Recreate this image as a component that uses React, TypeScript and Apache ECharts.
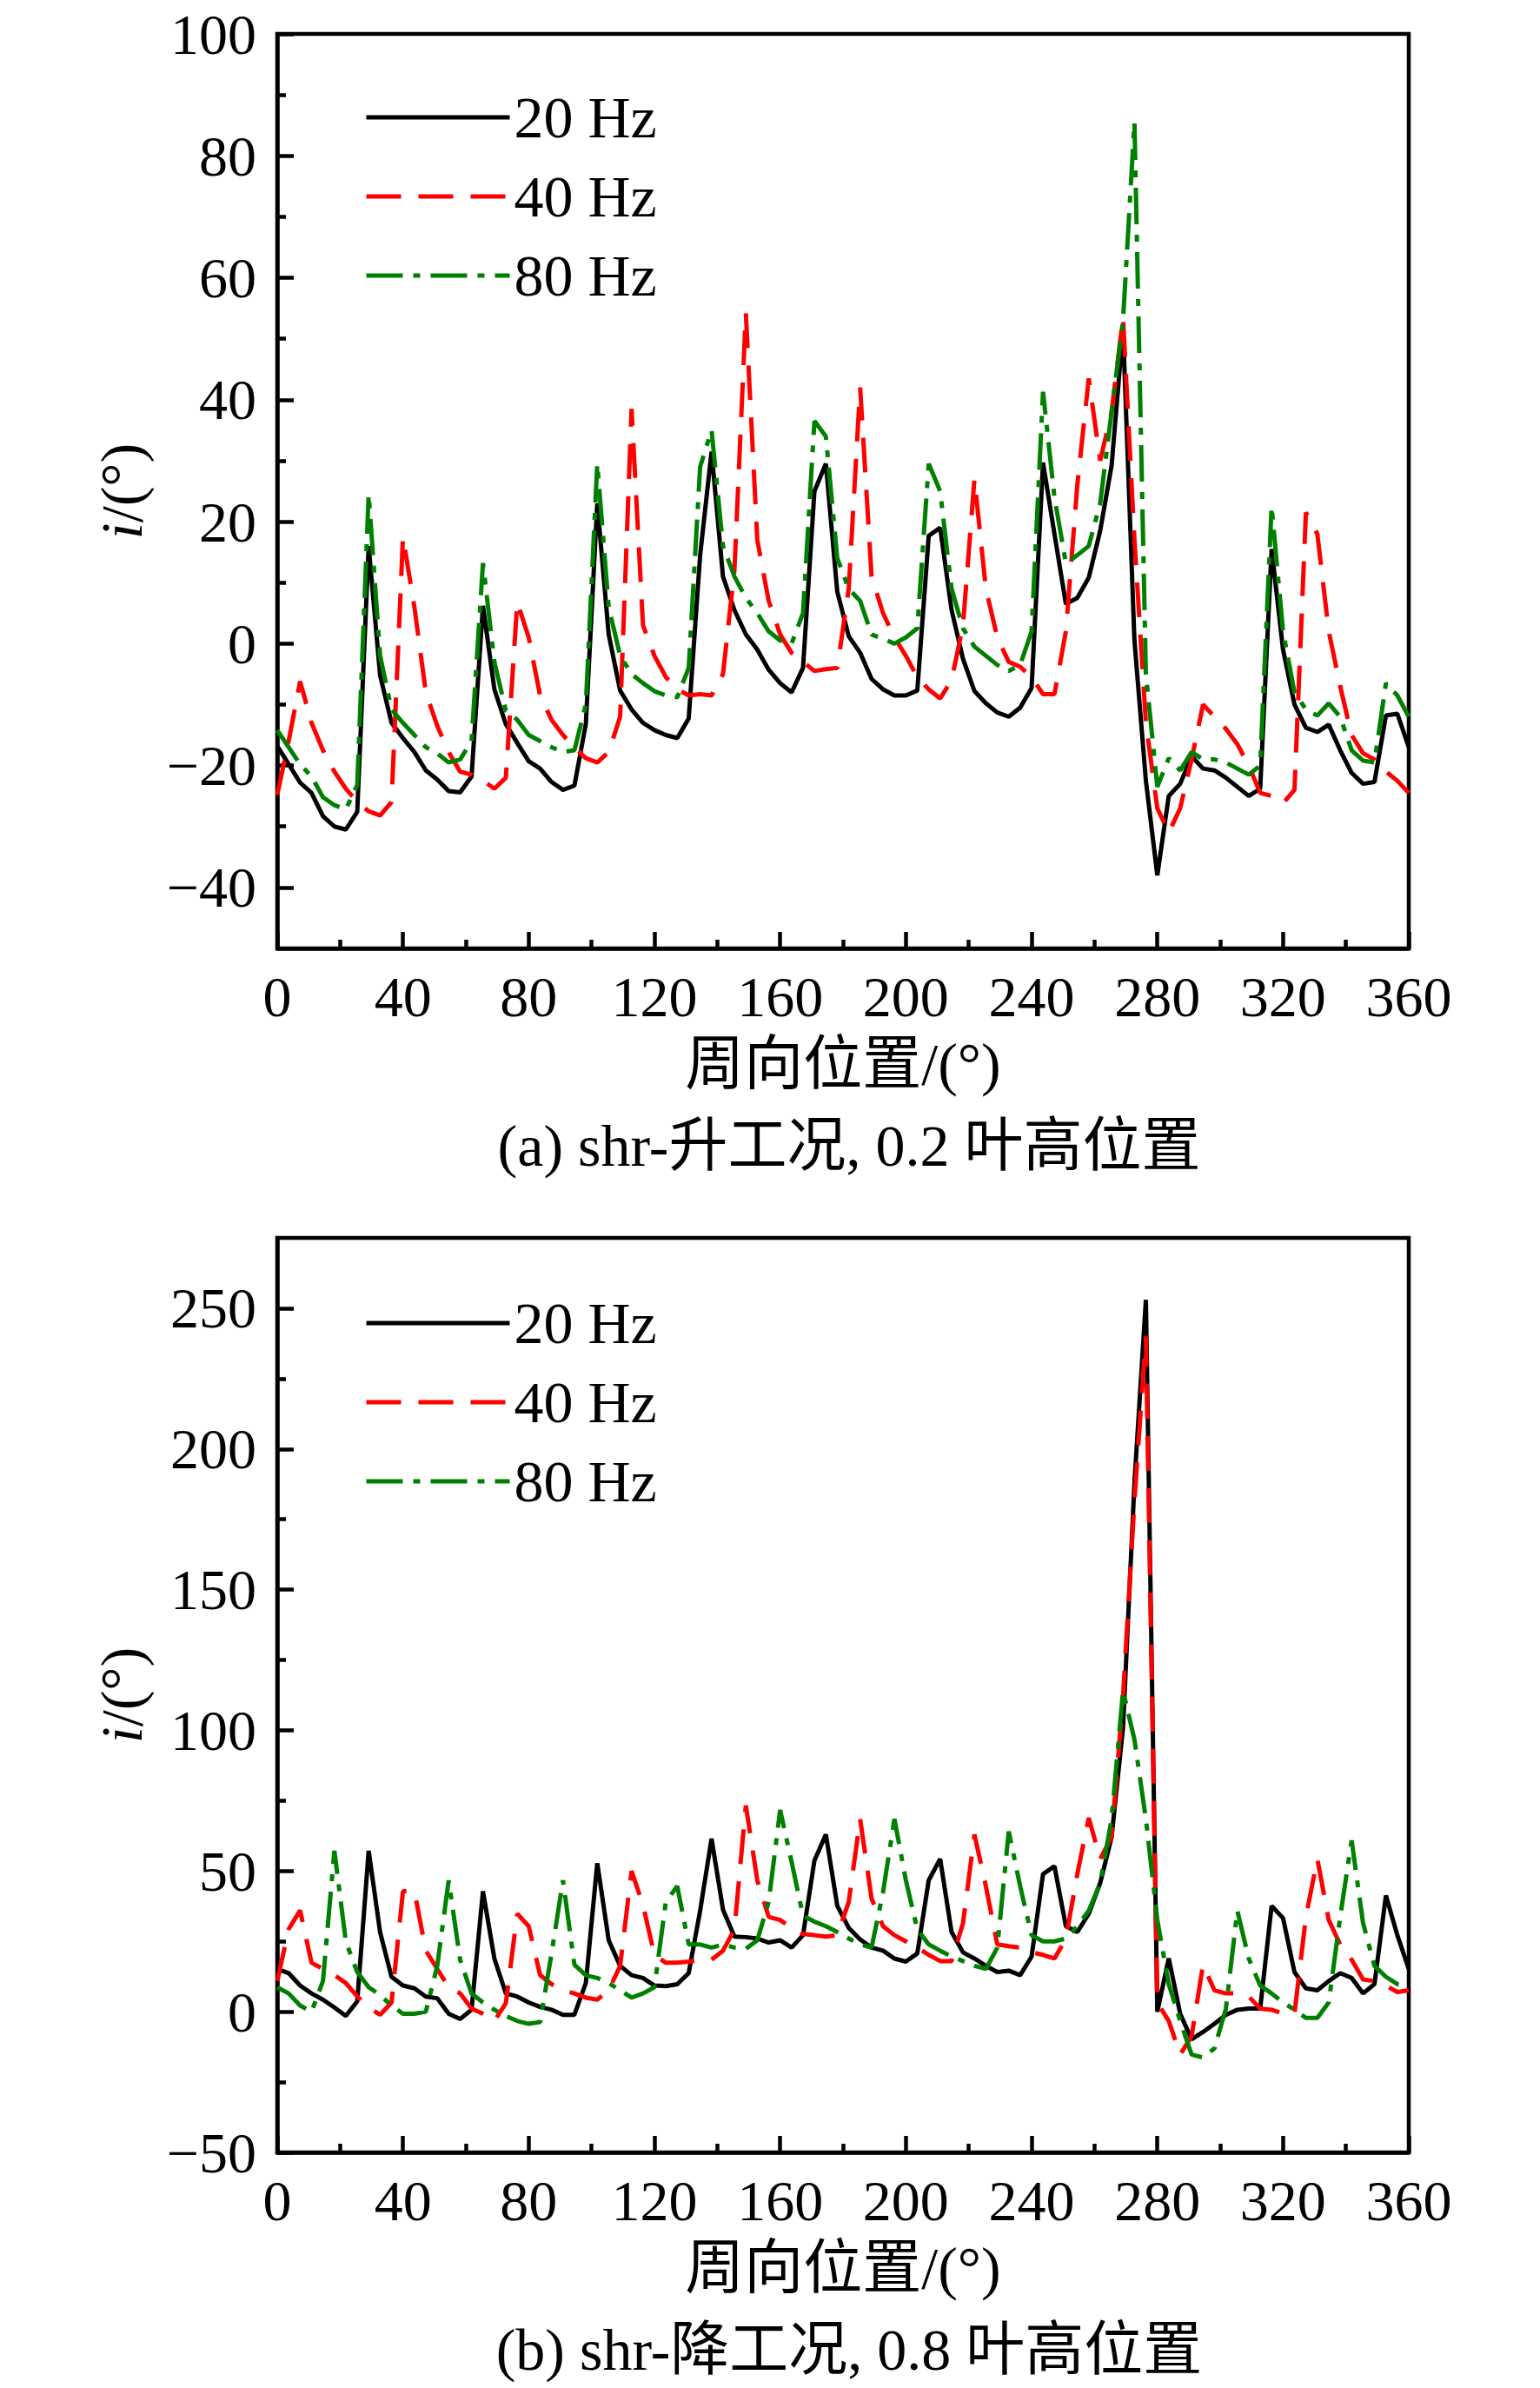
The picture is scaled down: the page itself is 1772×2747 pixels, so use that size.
import { useEffect, useRef } from 'react';
import * as echarts from 'echarts';

// --- sample positions: 100 points over 0..360 deg ---
const ANGLES = Array.from({ length: 100 }, (_, i) => (i * 360) / 99);

const SERIES_NAMES = ['20 Hz', '40 Hz', '80 Hz'];
const COLORS = ['#000000', '#ff0000', '#008000'];
const DASHES: any[] = ['solid', [40, 20], [42, 12, 8, 12]];

// (a) shr-升工况, 0.2 叶高位置
const shrUp20 = [
  -16.8, -19.8, -22.8, -24.5, -28.3, -30, -30.5, -27.6, 16, -5.2,
  -13, -15.5, -17.8, -20.8, -22.3, -24.2, -24.4, -21.8, 6.2, -7.5,
  -13.2, -16.3, -19.3, -20.5, -22.7, -24, -23.3, -13.2, 23, 1.5,
  -7.7, -10.8, -13, -14.2, -15, -15.5, -12.3, 14.5, 31.5, 11,
  5.5, 1.5, -1, -4.3, -6.5, -8, -4, 25, 29.5, 8.5,
  1.2, -1.5, -5.8, -7.5, -8.5, -8.5, -7.7, 17.7, 19, 5.5,
  -2.5, -7.8, -9.8, -11.3, -12, -10.5, -7.3, 29.7, 18, 6.5,
  7.5, 10.8, 18.5, 29.2, 51.5, 0.5, -22.5, -38, -25, -23,
  -18.5, -20.5, -20.8, -22, -23.5, -25, -23.8, 15.5, -1, -10,
  -13.8, -14.5, -13.3, -17.5, -21.2, -23, -22.7, -11.8, -11.5, -17,
];
const shrUp40 = [
  -24.8, -16, -6.2, -13, -17.5, -21, -23.8, -26, -27.5, -28.2,
  -26, 17.5, 6, -8, -13.5, -17.8, -21, -21.5, -22.5, -23.8,
  -22, 6.8, 1, -8.5, -12.5, -15, -17, -18.8, -19.5, -17.8,
  -12, 38.5, 3, -2, -5.5, -7.5, -8.5, -8.3, -8.5, -5,
  12, 54.2, 17, 7, 1.5, -1.5, -3, -4.5, -4.2, -4,
  9, 42, 11, 5, 1, -2, -5.5, -7.5, -9, -6,
  3, 27, 9, 1, -3, -3.8, -5.5, -8.3, -8.3, 2,
  26, 43.5, 30, 38, 53.5, 17, -13, -27, -31, -27,
  -19, -10, -12, -14, -16.5, -20, -24.5, -25, -26.2, -24,
  21.5, 18, 2, -7, -15, -18, -19, -21, -22.5, -24.5,
];
const shrUp80 = [
  -14.2, -17, -19.8, -21.8, -25.2, -26.5, -27.2, -23.2, 24.5, -2,
  -10.8, -13, -15, -17, -18, -19.5, -19, -16, 13.2, -3,
  -11, -12.5, -15, -16, -17, -17.8, -17.5, -10, 29.5, 6,
  -2, -5, -6.5, -7.8, -8.5, -8.8, -4, 29, 35, 16,
  11, 7.5, 5, 2, 0.5, 0, 5, 36.5, 34, 14,
  9, 7, 1.5, 0.8, 0, 1, 2.5, 29.5, 25, 9,
  2.5, -0.5, -2, -3.5, -4.5, -3.5, 2, 41.3, 24, 13.2,
  14.5, 16, 23, 38, 53, 85.5, -5, -23.5, -18.8, -20.8,
  -17.8, -19, -19, -19.5, -20.5, -21.5, -20, 22.5, 2, -8,
  -10.8, -11.8, -9.8, -12, -17.5, -19.2, -19.5, -6.5, -8.5, -12,
];

// (b) shr-降工况, 0.8 叶高位置
const shrDown20 = [
  15.2, 13.7, 9.3, 6.5, 4.3, 1.5, -1.5, 3.7, 57.2, 28.3,
  12.4, 9.3, 8.3, 5.4, 4.8, -0.7, -2.6, 0.7, 42.8, 18.9,
  6.5, 5.4, 3.3, 1.7, 0.7, -1.1, -1.1, 10.2, 52.8, 25.4,
  16.3, 13, 12, 9.3, 9.1, 9.8, 13.7, 35.9, 61.5, 36.3,
  26.7, 26.5, 26, 24.6, 25.4, 22.8, 27.2, 53.7, 63, 37.6,
  29.8, 25.7, 22.8, 21.7, 18.9, 17.8, 20.7, 46.7, 54.3, 28.3,
  21.1, 18.9, 16.3, 14.1, 14.6, 13, 19.6, 48.9, 51.7, 30.4,
  28.3, 34.8, 45.7, 62, 101, 188, 253, 0, 19, -0.7,
  -9.8, -7.2, -4.3, -1.1, 0.7, 1.1, 1.1, 37.6, 33.3, 14.1,
  8.3, 7.6, 10.9, 13.7, 12, 6.5, 9.8, 41.3, 27.2, 15.2,
];
const shrDown40 = [
  10.9, 29.3, 36, 17.4, 15.2, 13, 10.2, 5.4, 1.5, -1.1,
  3.3, 42.8, 42.8, 21.7, 15.2, 8.7, 6.5, 1.1, -0.7, -3.3,
  3, 34.8, 30.4, 13, 9.8, 7.6, 6.5, 5, 4.3, 7.6,
  16.3, 50, 38, 20.2, 17.4, 17.4, 17.8, 18.5, 18.5, 21.7,
  29.3, 73.3, 46.7, 33.7, 32.6, 29.8, 27.6, 27.2, 26.7, 27.2,
  39, 68.5, 40.2, 30.4, 27.2, 25, 22.8, 20.2, 18, 18,
  31.5, 63, 44.6, 23.9, 23.3, 22.8, 21.1, 20.2, 18.9, 26,
  48.9, 68.9, 54.3, 62, 112, 181.5, 240, 3.3, -3.3, -15.2,
  -8.7, 16.7, 7.6, 6.5, 6.5, 5.4, 1.1, 0.7, -0.7, -0.7,
  33.7, 54.3, 32.6, 23.9, 18.5, 11.5, 10.9, 9.3, 7, 7.6,
];
const shrDown80 = [
  8.7, 6.5, 2.2, 0, 10.9, 57.2, 25, 14.1, 8.7, 5.9,
  2.2, -0.7, -0.7, 0, 16.3, 46.7, 18.5, 6.5, 3.3, 0.7,
  -1.5, -3.3, -4.3, -3.7, 20.7, 46.7, 16.7, 13, 12, 10.2,
  7.6, 5, 6.5, 8.7, 39.1, 44.6, 23.9, 23.9, 22.8, 23.9,
  22.8, 22.4, 25.4, 39.1, 71.7, 53.3, 34.1, 32, 30.4, 28.3,
  26, 23.9, 22.8, 42.4, 68.5, 46.7, 29.3, 23.9, 21.7, 19.6,
  18, 16.3, 15.2, 22.8, 64.1, 44.6, 27.2, 25, 25, 26,
  30.4, 35.9, 45.7, 68.5, 114, 96.7, 68.5, 32.6, 9.8, -3.3,
  -15.2, -16.3, -13, 1.1, 35.9, 18.9, 9.3, 6.5, 3.3, 0.7,
  -2.2, -2.2, 3.3, 33.7, 60.9, 31.5, 16.3, 12.4, 9.8, 8.7,
];

// axis ticks
const UP_RANGE = [-50, 100];
const UP_MAJOR = [-40, -20, 0, 20, 40, 60, 80, 100];
const UP_MINOR = [-30, -10, 10, 30, 50, 70, 90];
const DOWN_RANGE = [-50, 275];
const DOWN_MAJOR = [-50, 0, 50, 100, 150, 200, 250];
const DOWN_MINOR = [-25, 25, 75, 125, 175, 225];

const X_NAME = '周向位置/(°)';
const CAPTIONS = ['(a) shr-升工况, 0.2 叶高位置', '(b) shr-降工况, 0.8 叶高位置'];

const FONT = "'Liberation Serif', 'Times New Roman', 'Noto Sans CJK SC', serif";
const FS = 68;
const TICK_FS = 66;
const LW = 4.5;
const SERIES_LW = 5;

const PLOT_LEFT = 319;
const PLOT_W = 1302;
const PLOT_H = 1052;

const panels = [
  { top: 39, legendTop: 96, range: UP_RANGE, major: UP_MAJOR, minor: UP_MINOR, data: [shrUp20, shrUp40, shrUp80], caption: CAPTIONS[0] },
  { top: 1424, legendTop: 1483, range: DOWN_RANGE, major: DOWN_MAJOR, minor: DOWN_MINOR, data: [shrDown20, shrDown40, shrDown80], caption: CAPTIONS[1] },
];

const minus = (v: number) => String(v).replace('-', '\u2212');

function textEl(text: string, x: number, y: number, extra: any = {}) {
  return {
    type: 'text',
    x,
    y,
    ...extra,
    style: {
      text,
      fill: '#000',
      fontSize: FS,
      fontFamily: FONT,
      align: 'center',
      verticalAlign: 'middle',
      textAlign: 'center',
      textVerticalAlign: 'middle',
      ...(extra.style || {}),
    },
  };
}

function buildOption() {
  const grid: any[] = [];
  const xAxis: any[] = [];
  const yAxis: any[] = [];
  const series: any[] = [];
  const legend: any[] = [];
  const graphic: any[] = [];

  const tickLine = { color: '#000', width: LW };

  panels.forEach((p, pi) => {
    grid.push({
      left: PLOT_LEFT,
      top: p.top,
      width: PLOT_W,
      height: PLOT_H,
      show: true,
      borderColor: '#000',
      borderWidth: LW,
      backgroundColor: 'transparent',
    });
    xAxis.push({
      gridIndex: pi,
      type: 'value',
      min: 0,
      max: 360,
      interval: 40,
      axisLine: { show: true, onZero: false, lineStyle: tickLine },
      axisTick: { show: true, inside: true, length: 19, lineStyle: tickLine },
      minorTick: { show: true, splitNumber: 2, length: 10, lineStyle: tickLine },
      axisLabel: { fontSize: TICK_FS, fontFamily: FONT, color: '#000', margin: 22 },
      splitLine: { show: false },
    });
    yAxis.push({
      gridIndex: pi,
      type: 'value',
      position: 'left',
      min: p.range[0],
      max: p.range[1],
      axisLine: { show: true, onZero: false, lineStyle: tickLine },
      axisTick: { show: true, inside: true, length: 19, lineStyle: tickLine, customValues: p.major },
      axisLabel: {
        fontSize: TICK_FS,
        fontFamily: FONT,
        color: '#000',
        margin: 24,
        customValues: p.major,
        formatter: (v: number) => minus(v),
      },
      splitLine: { show: false },
    });
    yAxis.push({
      gridIndex: pi,
      type: 'value',
      position: 'left',
      offset: 0,
      min: p.range[0],
      max: p.range[1],
      axisLine: { show: false },
      axisTick: { show: true, inside: true, length: 10, lineStyle: tickLine, customValues: p.minor },
      axisLabel: { show: false },
      splitLine: { show: false },
    });

    p.data.forEach((vals, k) => {
      series.push({
        type: 'line',
        name: SERIES_NAMES[k],
        xAxisIndex: pi,
        yAxisIndex: pi * 2,
        data: ANGLES.map((a, i) => [a, vals[i]]),
        symbol: 'none',
        smooth: false,
        z: 2 + k,
        lineStyle: { color: COLORS[k], width: SERIES_LW, type: DASHES[k], cap: 'butt' },
        itemStyle: { color: COLORS[k] },
      });
    });

    legend.push({
      orient: 'vertical',
      left: 414,
      top: p.legendTop,
      itemWidth: 165,
      itemHeight: 20,
      itemGap: 23,
      data: SERIES_NAMES,
      selectedMode: false,
      itemStyle: { opacity: 0 },
      lineStyle: { width: SERIES_LW },
      textStyle: { fontSize: FS, fontFamily: FONT, color: '#000', lineHeight: 68 },
    });

    const bottom = p.top + PLOT_H;
    graphic.push(textEl(X_NAME, PLOT_LEFT + PLOT_W / 2, bottom + 133));
    graphic.push(textEl(p.caption, 977, bottom + 227));
    graphic.push(
      textEl('{it|i}/(°)', 140, p.top + PLOT_H / 2, {
        rotation: Math.PI / 2,
        style: {
          rich: {
            it: { fontStyle: 'italic', fontSize: FS, fontFamily: FONT, fill: '#000' },
          },
        },
      }),
    );
  });

  return {
    animation: false,
    backgroundColor: '#ffffff',
    grid,
    xAxis,
    yAxis,
    legend,
    series,
    graphic,
  };
}

export default function App() {
  const ref = useRef<HTMLDivElement>(null);

  useEffect(() => {
    if (!ref.current) return;
    const chart = echarts.init(ref.current, undefined, { renderer: 'svg' });
    chart.setOption(buildOption() as any);
    return () => chart.dispose();
  }, []);

  return (
    <div
      ref={ref}
      style={{ position: 'absolute', left: 0, top: 0, width: 1772, height: 2747, background: '#fff' }}
    />
  );
}
